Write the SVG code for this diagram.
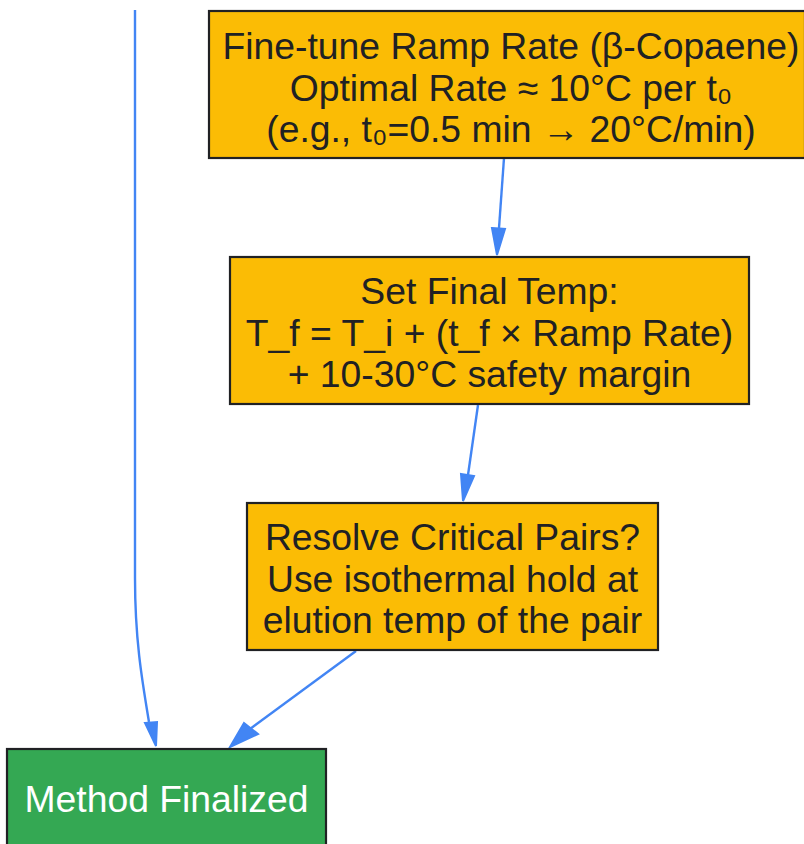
<svg xmlns="http://www.w3.org/2000/svg" width="804" height="844" viewBox="0 0 804 844">
<defs>
<style>
.box{fill:#FBBC05;stroke:#202124;stroke-width:2.2}
.fin{fill:#34A853;stroke:#202124;stroke-width:2.2}
.t{font-family:"Liberation Sans",Arial,sans-serif;font-size:37.3px;fill:#202124;text-anchor:middle}
.w{fill:#ffffff}
.e{fill:none;stroke:#4285F4;stroke-width:2.4}
.ah{fill:#4285F4;stroke:#4285F4;stroke-width:2}
</style>
</defs>
<rect width="804" height="844" fill="#ffffff"/>
<g id="edges">
<path class="e" d="M135,10 L135,578 C135,640 142,680 149,722"/>
<polygon class="ah" points="145,723 157,722 156,746"/>
<path class="e" d="M504,158 L499,228"/>
<polygon class="ah" points="492,228 505,229 497,255"/>
<path class="e" d="M478,405 L468,475"/>
<polygon class="ah" points="461,474 474,476 463,501"/>
<path class="e" d="M356,651 L250,729"/>
<polygon class="ah" points="244,723 258,734 230,747"/>
</g>
<g id="n1">
<rect class="box" x="209" y="11" width="596" height="147"/>
<text class="t" x="511" y="59">Fine-tune Ramp Rate (β-Copaene)</text>
<text class="t" x="511" y="101">Optimal Rate ≈ 10°C per t₀</text>
<text class="t" x="511" y="142">(e.g., t₀=0.5 min → 20°C/min)</text>
</g>
<g id="n2">
<rect class="box" x="230" y="257" width="519" height="147"/>
<text class="t" x="489.5" y="304">Set Final Temp:</text>
<text class="t" x="489.5" y="346">T_f = T_i + (t_f × Ramp Rate)</text>
<text class="t" x="489.5" y="387">+ 10-30°C safety margin</text>
</g>
<g id="n3">
<rect class="box" x="247" y="503" width="411" height="147"/>
<text class="t" x="452.5" y="550">Resolve Critical Pairs?</text>
<text class="t" x="452.5" y="592">Use isothermal hold at</text>
<text class="t" x="452.5" y="633">elution temp of the pair</text>
</g>
<g id="n4">
<rect class="fin" x="7" y="749" width="319" height="110"/>
<text class="t w" x="166.5" y="812">Method Finalized</text>
</g>
</svg>
